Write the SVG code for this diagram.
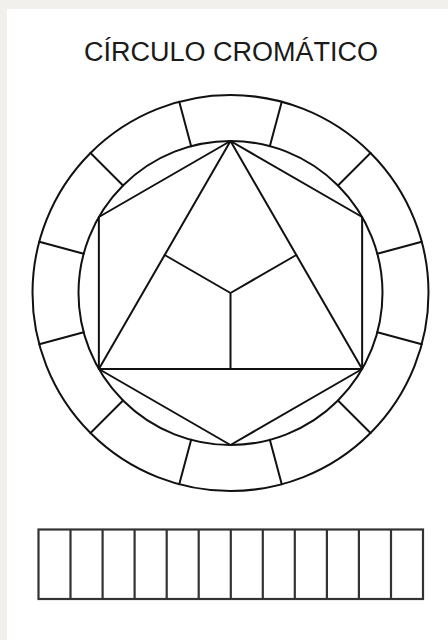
<svg xmlns="http://www.w3.org/2000/svg" width="448" height="640" viewBox="0 0 448 640">
<style>
.ln{fill:none;stroke:#111;stroke-width:2;stroke-linecap:round;stroke-linejoin:round}
.bar{fill:none;stroke:#333;stroke-width:2.2}
.title{font-family:"Liberation Sans",Arial,sans-serif;font-size:27px;fill:#1a1a1a;text-anchor:middle}
</style>
<rect x="0" y="0" width="448" height="640" fill="#f1f0ec"/>
<rect x="7" y="9" width="441" height="631" fill="#ffffff"/>
<g id="title"><text class="title" x="231" y="60.5">CÍRCULO CROMÁTICO</text></g>
<g id="outer-ring">
<circle class="ln" cx="230.5" cy="293" r="198"/>
<circle class="ln" cx="230.5" cy="293" r="152"/>
</g>
<g id="ring-dividers">
<path class="ln" d="M269.84 146.18L281.75 101.75M337.98 185.52L370.51 152.99M377.32 253.66L421.75 241.75M377.32 332.34L421.75 344.25M337.98 400.48L370.51 433.01M269.84 439.82L281.75 484.25M191.16 439.82L179.25 484.25M123.02 400.48L90.49 433.01M83.68 332.34L39.25 344.25M83.68 253.66L39.25 241.75M123.02 185.52L90.49 152.99M191.16 146.18L179.25 101.75"/>
</g>
<g id="hexagon">
<path class="ln" d="M230.5 141L362.14 217L362.14 369L230.5 445L98.86 369L98.86 217Z"/>
</g>
<g id="triangle">
<path class="ln" d="M230.5 141L362.14 369L98.86 369Z"/>
</g>
<g id="inner-y">
<path class="ln" d="M230.5 293L164.68 255M230.5 293L296.32 255M230.5 293L230.5 369"/>
</g>
<g id="scale-bar">
<rect class="bar" x="38.5" y="529.5" width="384.5" height="69.5"/>
<path class="bar" d="M70.5 529.5V599M102.6 529.5V599M134.6 529.5V599M166.7 529.5V599M198.7 529.5V599M230.8 529.5V599M262.8 529.5V599M294.8 529.5V599M326.9 529.5V599M358.9 529.5V599M391 529.5V599"/>
</g>
</svg>
